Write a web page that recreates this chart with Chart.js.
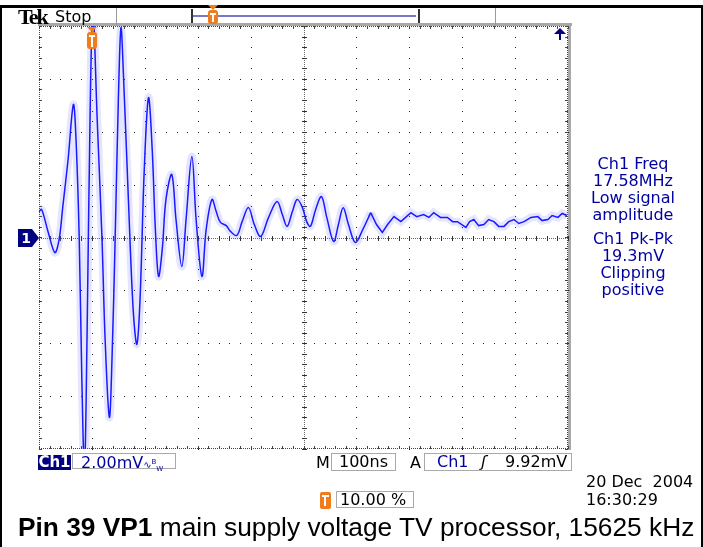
<!DOCTYPE html>
<html>
<head>
<meta charset="utf-8">
<title>Pin 39 VP1 - Tek capture</title>
<script src="https://cdn.jsdelivr.net/npm/chart.js@4.4.0/dist/chart.umd.min.js"></script>
<style>
    body { margin: 0; background: #fff; }
    #wrap { position: relative; width: 703px; height: 547px; overflow: hidden; font-family: "DejaVu Sans", sans-serif; }
    #scope { position: absolute; left: 0; top: 0; }
    .abs { position: absolute; white-space: nowrap; }
    .frame-l { left: 0; top: 5px; width: 2px; height: 542px; background: #000; }
    .frame-t { left: 0; top: 5px; width: 703px; height: 3px; background: #000; }
    .frame-r { left: 701px; top: 5px; width: 2px; height: 542px; background: #000; }
    .tek { left: 18px; top: 4px; font: bold 22px "Liberation Serif", serif; letter-spacing: -2px; color: #000; }
    .stop { left: 55px; top: 7px; font-size: 16px; color: #000; }
    .divider { top: 8px; width: 1px; height: 17px; background: #999; }
    .bracket { left: 191px; top: 9px; width: 225px; height: 14px; border-left: 2px solid #333; border-right: 2px solid #333; }
    .bracket-line { left: 193px; top: 15px; width: 223px; height: 2px; background: #7777cc; }
    .measure { left: 568px; top: 155px; width: 130px; text-align: center; color: #0000a0; font-size: 16px; line-height: 17px; }
    .measure .gap { height: 7px; }
    .box { border: 1px solid #aaa; height: 16px; top: 453px; font-size: 16px; line-height: 16px; }
    .ch1tag { left: 38px; top: 455px; width: 33px; height: 15px; background: #000080; color: #fff; font-weight: bold; font-size: 15px; line-height: 15px; text-align: center; }
    .navy { color: #0000a0; }
    .stat { font-size: 16px; color: #000; }
    .caption { left: 18px; top: 512px; font: 26.3px "Liberation Sans", Arial, sans-serif; color: #000; }
</style>
</head>
<body>
<div id="wrap">
    <canvas id="scope" width="703" height="547"></canvas>

    <!-- outer frame -->
    <div class="abs frame-l"></div>
    <div class="abs frame-t"></div>
    <div class="abs frame-r"></div>

    <!-- top status bar -->
    <div class="abs tek">Tek</div>
    <div class="abs stop">Stop</div>
    <div class="abs divider" style="left:116px"></div>
    <div class="abs divider" style="left:495px"></div>
    <div class="abs bracket"></div>
    <div class="abs bracket-line"></div>
    <canvas id="miniTrig" class="abs" style="left:207px; top:5px" width="12" height="20"></canvas>

    <!-- measurement readouts -->
    <div class="abs measure" id="measure"></div>

    <!-- bottom status bar -->
    <div class="abs ch1tag">Ch1</div>
    <div class="abs box navy" style="left:72px; width:104px; padding-left:8px; box-sizing:border-box">2.00mV<span style="font-size:10px">∿<sup style="font-size:7px">B</sup><sub style="font-size:7px">W</sub></span></div>
    <div class="abs stat" style="left:316px; top:453px">M</div>
    <div class="abs box stat" style="left:331px; width:63px; text-align:center">100ns</div>
    <div class="abs stat" style="left:410px; top:453px">A</div>
    <div class="abs box stat" style="left:424px; width:146px">
        <span class="navy" style="position:absolute; left:12px">Ch1</span>
        <span style="position:absolute; left:56px; font-style:italic">ʃ</span>
        <span style="position:absolute; left:80px">9.92mV</span>
    </div>
    <div class="abs stat" style="left:586px; top:473px; line-height:18px">20 Dec&nbsp; 2004<br>16:30:29</div>
    <canvas id="trigPct" class="abs" style="left:320px; top:492px" width="12" height="17"></canvas>
    <div class="abs box stat" style="left:336px; top:491px; width:78px; height:17px; padding-left:3px; box-sizing:border-box">10.00 %</div>

    <div class="abs caption"><b>Pin 39 VP1</b> main supply voltage TV processor, 15625 kHz</div>
</div>

<script>
// Time base 100 ns/div, trigger at 10 % -> screen runs -100 ns .. 900 ns
// Vertical 2.00 mV/div, 8 divisions
const timeDivs = [-100, 0, 100, 200, 300, 400, 500, 600, 700, 800, 900];
const voltDivs = [-8, -6, -4, -2, 0, 2, 4, 6, 8];

// Ch1 trace (ns, mV)
const timeNs = [
    -100, -95, -83, -70, -62, -55, -45, -35, -30, -24,
    -19, -14, -9, -3, 2, 10, 19, 25, 33, 38,
    44, 50, 55, 60, 69, 78, 85, 91, 99, 107,
    114, 120, 126, 133, 140, 151, 159, 170, 178, 189,
    197, 208, 216, 227, 235, 243, 254, 262, 274, 284,
    296, 307, 319, 334, 350, 360, 369, 379, 388, 398,
    406, 413, 423, 434, 444, 457, 466, 475, 485, 498,
    512, 527, 538, 549, 559, 571, 584, 593, 603, 614,
    627, 637, 646, 659, 672, 682, 691, 707, 714, 722,
    731, 741, 750, 760, 769, 779, 788, 798, 807, 817,
    830, 843, 851, 862, 870, 881, 889, 898
];
const ch1mV = [
    0.98, 1.06, 0.23, -0.57, -0.08, 1.17, 2.95, 5.03, 3.70, 0.00,
    -5.37, -8.80, -3.48, 5.20, 8.60, 4.46, 0.00, -3.86, -6.80, -4.60,
    0.00, 5.20, 7.94, 5.97, 1.44, -2.72, -4.04, -2.34, 2.57, 5.29,
    3.33, 0.30, -1.47, -0.45, 1.44, 2.38, 0.68, -1.10, 0.68, 3.06,
    0.68, -1.47, 0.30, 1.44, 0.98, 0.57, 0.45, 0.23, 0.08, 0.60,
    1.13, 0.49, 0.04, 0.76, 1.36, 0.87, 0.42, 0.98, 1.44, 1.13,
    0.60, 0.42, 1.06, 1.55, 0.76, -0.15, 0.49, 1.13, 0.49, -0.19,
    0.30, 0.94, 0.49, 0.19, 0.49, 0.79, 0.60, 0.76, 0.94, 0.79,
    0.87, 0.76, 0.94, 0.76, 0.76, 0.60, 0.60, 0.38, 0.60, 0.68,
    0.45, 0.49, 0.68, 0.60, 0.42, 0.42, 0.60, 0.68, 0.53, 0.60,
    0.76, 0.79, 0.64, 0.68, 0.83, 0.76, 0.91, 0.83
];
// ringing part is drawn smooth, the noisy tail from here on is drawn straight
const TAIL_START_NS = 527;

const measureLines = ['Ch1 Freq', '17.58MHz', 'Low signal', 'amplitude', '', 'Ch1 Pk-Pk', '19.3mV', 'Clipping', 'positive'];

const TRACE_BLUE = '#1a1aff';
const HALO_BLUE = 'rgba(110, 110, 255, 0.18)';
const NAVY = '#000080';
const ORANGE = '#f07c1c';

// Draw graticule: dotted divisions, ticked centre cross, ticked border
const graticulePlugin = {
    id: 'graticule',
    beforeDatasetsDraw(chart) {
        const { ctx, chartArea: a, scales } = chart;
        const xs = scales.x, ys = scales.y;
        const minorX = (xs.getPixelForValue(100) - xs.getPixelForValue(0)) / 5;
        const minorY = (ys.getPixelForValue(-2) - ys.getPixelForValue(0)) / 5;
        ctx.save();

        // gray bands along top and right
        ctx.fillStyle = '#a8a8a8';
        ctx.fillRect(a.left - 1, a.top - 3, a.right - a.left + 5, 3);
        ctx.fillRect(a.right, a.top - 3, 3, a.bottom - a.top + 4);

        ctx.fillStyle = '#222';
        // vertical division lines
        timeDivs.forEach((t, i) => {
            if (i === 0 || i === timeDivs.length - 1 || t === 400) return;
            const px = Math.round(xs.getPixelForValue(t));
            for (let y = a.top; y <= a.bottom; y += minorY) ctx.fillRect(px, Math.round(y), 1, 1);
        });
        // horizontal division lines
        voltDivs.forEach((v, i) => {
            if (i === 0 || i === voltDivs.length - 1 || v === 0) return;
            const py = Math.round(ys.getPixelForValue(v));
            for (let x = a.left; x <= a.right; x += minorX) ctx.fillRect(Math.round(x), py, 1, 1);
        });

        // centre cross
        const cx = Math.round(xs.getPixelForValue(400));
        const cy = Math.round(ys.getPixelForValue(0));
        ctx.fillStyle = '#666';
        for (let x = a.left; x <= a.right; x += 2) ctx.fillRect(Math.round(x), cy, 1, 1);
        for (let y = a.top; y <= a.bottom; y += 2) ctx.fillRect(cx, Math.round(y), 1, 1);
        ctx.fillStyle = '#333';
        for (let x = a.left; x <= a.right; x += minorX) ctx.fillRect(Math.round(x), cy - 2, 1, 5);
        for (let y = a.top; y <= a.bottom; y += minorY) ctx.fillRect(cx - 2, Math.round(y), 5, 1);

        // border ticks
        const L = Math.round(a.left), R = Math.round(a.right) - 1, T = Math.round(a.top), B = Math.round(a.bottom) - 1;
        ctx.fillStyle = '#444';
        for (let x = a.left; x <= a.right; x += 2) {
            ctx.fillRect(Math.round(x), T, 1, 1);
            ctx.fillRect(Math.round(x), B, 1, 1);
        }
        for (let y = a.top; y <= a.bottom; y += 2) {
            ctx.fillRect(L, Math.round(y), 1, 1);
            ctx.fillRect(R, Math.round(y), 1, 1);
        }
        for (let x = a.left; x <= a.right; x += minorX) {
            ctx.fillRect(Math.round(x), T, 1, 3);
            ctx.fillRect(Math.round(x), B - 2, 1, 3);
        }
        for (let y = a.top; y <= a.bottom; y += minorY) {
            ctx.fillRect(L, Math.round(y), 3, 1);
            ctx.fillRect(R - 2, Math.round(y), 3, 1);
        }
        ctx.restore();
    },
    afterDraw(chart) {
        const { ctx, chartArea: a, scales } = chart;
        const tx = Math.round(scales.x.getPixelForValue(0));
        const gy = Math.round(scales.y.getPixelForValue(0));
        ctx.save();

        // trigger position marker
        drawTrigMarker(ctx, tx, a.top + 1, 10, 22);

        // channel 1 ground marker
        ctx.fillStyle = NAVY;
        ctx.beginPath();
        ctx.moveTo(18, gy - 9);
        ctx.lineTo(32, gy - 9);
        ctx.lineTo(39, gy);
        ctx.lineTo(32, gy + 9);
        ctx.lineTo(18, gy + 9);
        ctx.closePath();
        ctx.fill();
        ctx.fillStyle = '#fff';
        ctx.font = 'bold 14px "DejaVu Sans"';
        ctx.textAlign = 'center';
        ctx.textBaseline = 'middle';
        ctx.fillText('1', 26, gy + 1);

        // clipped-above arrow
        const ax = Math.round(a.right) - 8;
        ctx.fillStyle = NAVY;
        ctx.beginPath();
        ctx.moveTo(ax, a.top + 2);
        ctx.lineTo(ax - 6, a.top + 8);
        ctx.lineTo(ax + 6, a.top + 8);
        ctx.closePath();
        ctx.fill();
        ctx.fillRect(ax - 1, a.top + 8, 2, 6);
        ctx.restore();
    }
};

// Orange trigger "T" marker: triangle on top, rounded body
function drawTrigMarker(ctx, x, top, w, h) {
    ctx.fillStyle = ORANGE;
    ctx.beginPath();
    ctx.moveTo(x - w / 2, top);
    ctx.lineTo(x + w / 2, top);
    ctx.lineTo(x, top + 5);
    ctx.closePath();
    ctx.fill();
    ctx.beginPath();
    ctx.roundRect(x - w / 2, top + 5, w, h - 5, 3);
    ctx.fill();
    ctx.fillStyle = '#fff';
    ctx.fillRect(x - 3, top + 8, 6, 2);
    ctx.fillRect(x - 1, top + 8, 2, h - 10);
}

function drawSmallIcons() {
    const mini = document.getElementById('miniTrig').getContext('2d');
    drawTrigMarker(mini, 6, 0, 10, 19);

    const pct = document.getElementById('trigPct').getContext('2d');
    pct.fillStyle = ORANGE;
    pct.beginPath();
    pct.roundRect(0, 0, 11, 17, 2);
    pct.fill();
    pct.fillStyle = '#fff';
    pct.fillRect(2, 3, 7, 2);
    pct.fillRect(4, 3, 2, 11);
}

function buildMeasurements() {
    const box = document.getElementById('measure');
    measureLines.forEach(line => {
        const d = document.createElement('div');
        if (line === '') d.className = 'gap';
        else d.textContent = line;
        box.appendChild(d);
    });
}

function traceDataset(label, data, color, width, tension) {
    return { label, data, borderColor: color, borderWidth: width, pointRadius: 0, tension, clip: 0 };
}

function initScope() {
    const points = timeNs.map((t, i) => ({ x: t, y: ch1mV[i] }));
    const ringing = points.filter(p => p.x <= TAIL_START_NS);
    const tail = points.filter(p => p.x >= TAIL_START_NS);
    new Chart(document.getElementById('scope'), {
        type: 'line',
        data: {
            datasets: [
                traceDataset('Ch1', ringing, TRACE_BLUE, 1.5, 0.35),
                traceDataset('Ch1 tail', tail, TRACE_BLUE, 1.5, 0),
                traceDataset('Ch1 persistence', ringing, HALO_BLUE, 8, 0.35),
                traceDataset('Ch1 tail persistence', tail, HALO_BLUE, 8, 0)
            ]
        },
        options: {
            responsive: false,
            animation: false,
            devicePixelRatio: 1,
            layout: { padding: { left: 39, right: 135, top: 26, bottom: 98 } },
            plugins: { legend: { display: false }, tooltip: { enabled: false } },
            scales: {
                x: { type: 'linear', min: -100, max: 900, display: false },
                y: { type: 'linear', min: -8, max: 8, display: false }
            }
        },
        plugins: [graticulePlugin]
    });
}

buildMeasurements();
drawSmallIcons();
initScope();
</script>
</body>
</html>
